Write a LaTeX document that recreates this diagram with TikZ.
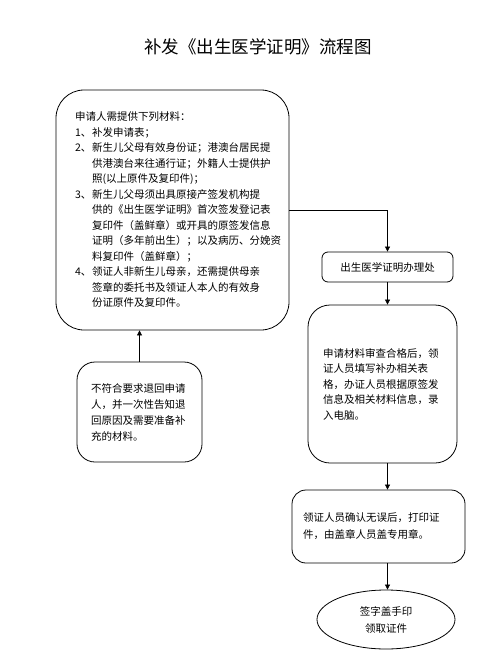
\documentclass[tikz,border=0pt]{standalone}
\usepackage{fontspec}
\setmainfont{Noto Sans CJK SC}
\usetikzlibrary{positioning,shapes.geometric,arrows.meta}

\tikzset{
  stepbox/.style={draw,line width=0.8pt,align=left,inner ysep=0pt,font=\fontsize{10.5}{15.5}\selectfont},
  flowarr/.style={draw,line width=0.6pt,-{Triangle[length=5pt,width=5pt]}}
}
\newcommand{\itemno}[1]{\makebox[17pt][l]{#1}}
\newcommand{\indentline}{\hspace*{17pt}}

\begin{document}
\begin{tikzpicture}[x=1pt,y=1pt,yscale=-1,xscale=1]
\useasboundingbox (0,0) rectangle (500,656);

% Text Node
\node (title) at (258,47) {\fontsize{17.5}{20}\selectfont 补发《出生医学证明》流程图};

%Shape: Rounded Rectangle
\node[stepbox,rounded corners=28pt,text width=195pt,inner xsep=19pt,minimum height=240pt] (req) at (172.5,210) {%
申请人需提供下列材料：\\
\itemno{1、}补发申请表；\\
\itemno{2、}新生儿父母有效身份证；港澳台居民提\\
\indentline 供港澳台来往通行证；外籍人士提供护\\
\indentline 照(以上原件及复印件)；\\
\itemno{3、}新生儿父母须出具原接产签发机构提\\
\indentline 供的《出生医学证明》首次签发登记表\\
\indentline 复印件（盖鲜章）或开具的原签发信息\\
\indentline 证明（多年前出生）；以及病历、分娩资\\
\indentline 料复印件（盖鲜章）；\\
\itemno{4、}领证人非新生儿母亲，还需提供母亲\\
\indentline 签章的委托书及领证人本人的有效身\\
\indentline 份证原件及复印件。};

%Shape: Rounded Rectangle
\node[stepbox,rounded corners=18pt,text width=97pt,inner xsep=14pt,minimum height=100pt,
  font=\fontsize{10.5}{16}\selectfont] (fail) at (139.5,412) {%
不符合要求退回申请\\
人，并一次性告知退\\
回原因及需要准备补\\
充的材料。};

%Shape: Rounded Rectangle
\node[stepbox,rounded corners=6pt,align=center,minimum width=131pt,minimum height=30pt] (office) at (387.5,267) {出生医学证明办理处};

%Shape: Rounded Rectangle
\node[stepbox,rounded corners=22pt,text width=119pt,inner xsep=15pt,minimum height=158pt] (review) at (382.5,384) {%
申请材料审查合格后，领\\
证人员填写补办相关表\\
格，办证人员根据原签发\\
信息及相关材料信息，录\\
入电脑。};

%Shape: Rounded Rectangle
\node[stepbox,rounded corners=14pt,text width=151pt,inner xsep=11pt,minimum height=73pt,
  font=\fontsize{10.5}{17}\selectfont] (confirm) at (378.5,526.5) {%
领证人员确认无误后，打印证\\
件，由盖章人员盖专用章。};

%Shape: Ellipse
\node[draw,line width=0.8pt,ellipse,align=center,inner sep=0pt,minimum width=138pt,minimum height=59pt,
  font=\fontsize{10.5}{17}\selectfont] (finish) at (386,619.5) {签字盖手印\\领取证件};

%Straight Lines
\draw[flowarr] (req.east) -| (office.north);
\draw[flowarr] (office.south) -- (office.south |- review.north);
\draw[flowarr] (office.south |- review.south) -- (office.south |- confirm.north);
\draw[flowarr] (office.south |- confirm.south) -- (office.south |- finish.north);
\draw[flowarr] (fail.north) -- (fail.north |- req.south);

\end{tikzpicture}
\end{document}
